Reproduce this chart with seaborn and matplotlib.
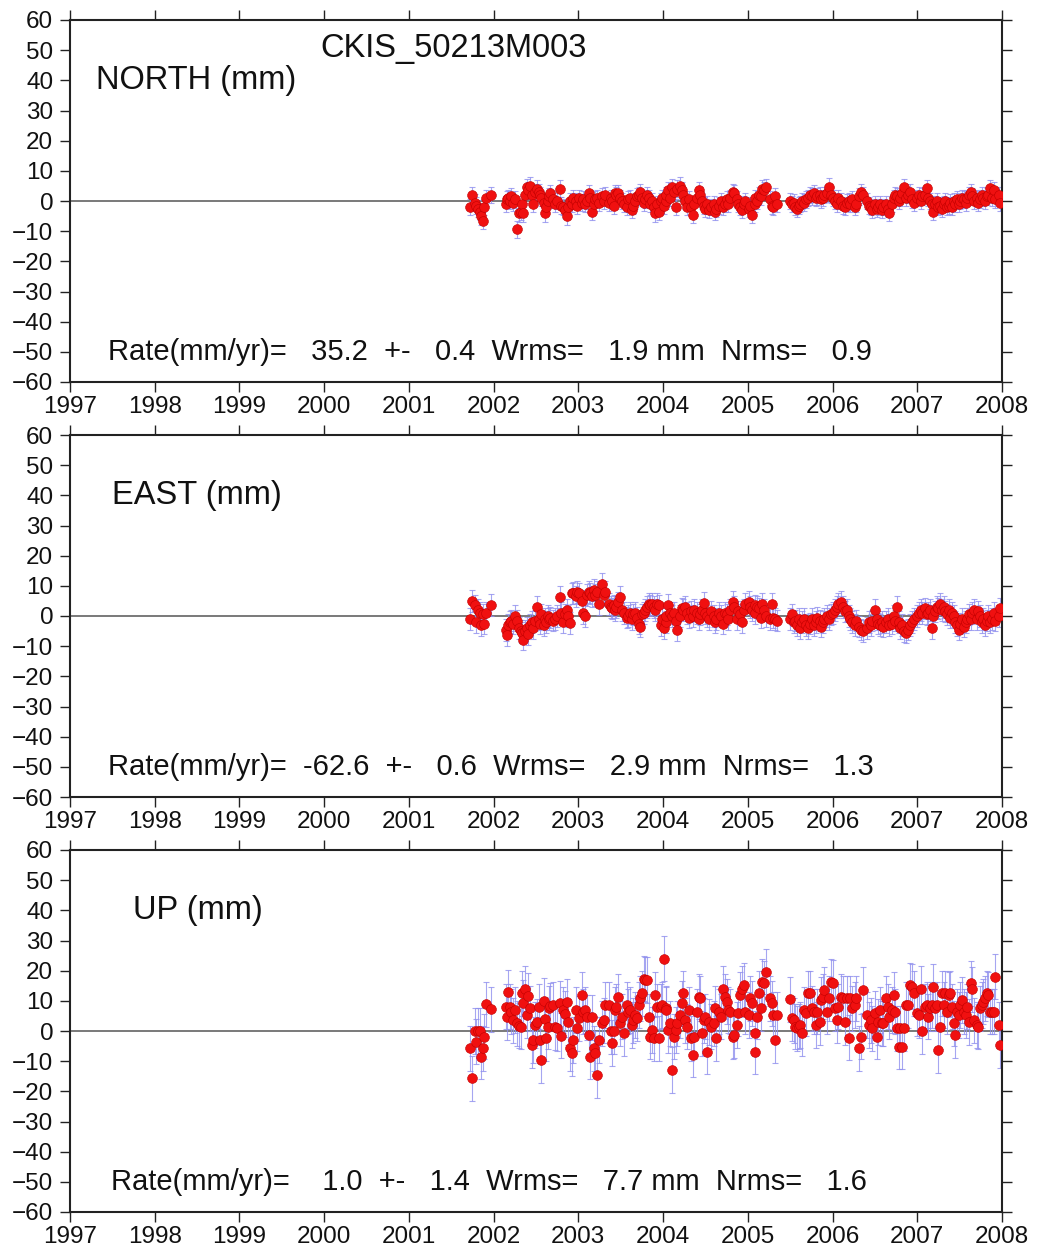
import matplotlib
matplotlib.use("Agg")
import matplotlib.pyplot as plt
import seaborn as sns
import pandas as pd
import numpy as np

# --- data (decimal years, mm) ---
epochs = [
    2001.72, 2001.75, 2001.78, 2001.79, 2001.82, 2001.84, 2001.85, 2001.87, 2001.89, 2001.91, 2001.97,
    2002.15, 2002.16, 2002.17, 2002.19, 2002.21, 2002.23, 2002.25, 2002.27, 2002.30, 2002.32,
    2002.33, 2002.35, 2002.37, 2002.39, 2002.41, 2002.43, 2002.45, 2002.46, 2002.49, 2002.51,
    2002.53, 2002.55, 2002.56, 2002.59, 2002.61, 2002.62, 2002.64, 2002.65, 2002.67, 2002.70,
    2002.72, 2002.75, 2002.78, 2002.79, 2002.82, 2002.84, 2002.87, 2002.88, 2002.90, 2002.93,
    2002.94, 2002.97, 2002.98, 2003.01, 2003.04, 2003.06, 2003.08, 2003.10, 2003.12, 2003.14,
    2003.16, 2003.18, 2003.20, 2003.22, 2003.24,
    2003.28, 2003.30, 2003.32, 2003.36, 2003.38, 2003.40, 2003.42, 2003.43, 2003.45, 2003.47,
    2003.49, 2003.51, 2003.54, 2003.57, 2003.59, 2003.61, 2003.63, 2003.65, 2003.67, 2003.69,
    2003.71, 2003.73, 2003.75, 2003.77, 2003.79, 2003.81, 2003.83, 2003.85, 2003.87, 2003.89,
    2003.91, 2003.93, 2003.95, 2003.97, 2003.99, 2004.01, 2004.03, 2004.04, 2004.06, 2004.08,
    2004.11, 2004.13, 2004.15, 2004.17, 2004.20, 2004.22, 2004.24, 2004.26, 2004.28, 2004.30,
    2004.33, 2004.35, 2004.37, 2004.40, 2004.42, 2004.44, 2004.46, 2004.48, 2004.50, 2004.52,
    2004.54, 2004.57, 2004.60, 2004.61, 2004.63, 2004.66, 2004.68, 2004.71, 2004.73, 2004.75,
    2004.77, 2004.79, 2004.82, 2004.84,
    2004.87, 2004.89, 2004.91, 2004.93, 2004.95, 2004.97, 2005.01, 2005.03, 2005.05, 2005.08,
    2005.09, 2005.11, 2005.13, 2005.15, 2005.17, 2005.19, 2005.21, 2005.26, 2005.28, 2005.30,
    2005.32, 2005.34,
    2005.50, 2005.52, 2005.54, 2005.56, 2005.58, 2005.60, 2005.62, 2005.64, 2005.66, 2005.69,
    2005.71, 2005.73, 2005.76, 2005.78, 2005.81, 2005.82, 2005.85, 2005.86, 2005.89, 2005.90,
    2005.93, 2005.96, 2005.98, 2006.00, 2006.03, 2006.05, 2006.07, 2006.10, 2006.12, 2006.15,
    2006.17, 2006.19, 2006.21, 2006.23, 2006.26, 2006.28, 2006.31, 2006.33, 2006.36,
    2006.41, 2006.43, 2006.45, 2006.47, 2006.50, 2006.52, 2006.54, 2006.56, 2006.58, 2006.60,
    2006.63, 2006.65, 2006.67, 2006.70, 2006.72, 2006.74, 2006.76, 2006.78, 2006.80, 2006.82,
    2006.84, 2006.87, 2006.89, 2006.92, 2006.94, 2006.96, 2007.00, 2007.02, 2007.04, 2007.06,
    2007.09, 2007.11, 2007.13, 2007.15, 2007.17, 2007.19, 2007.21, 2007.23, 2007.24, 2007.27,
    2007.29, 2007.31, 2007.33, 2007.35, 2007.37, 2007.39, 2007.41, 2007.43, 2007.45, 2007.47,
    2007.49, 2007.51, 2007.53, 2007.55, 2007.57, 2007.59, 2007.61, 2007.63, 2007.65, 2007.67,
    2007.70, 2007.72, 2007.74, 2007.76, 2007.78, 2007.80, 2007.82, 2007.84, 2007.86, 2007.88,
    2007.90, 2007.92, 2007.96, 2007.98,
]

north = [
    -2.0, 2.0, -0.5, -1.5, -2.5, -3.5, -5.0, -6.5, -2.0, 1.0, 2.0,
    -1.0, 0.5, 1.0, 0.0, 1.5, -0.5, 0.5, -9.3, -4.0, -3.5,
    -1.0, -4.0, 2.0, 4.5, 3.5, 5.0, 2.0, -1.0, 3.0, 4.0,
    3.0, 2.0, 1.0, -0.5, -4.0, -2.0, 0.0, 1.5, 2.5, 0.5,
    -1.0, 0.0, 4.0, -1.5, -2.0, -3.0, -5.0, -2.0, 0.0, -1.0,
    1.0, 0.0, -1.5, 1.0, -0.5, 0.5, -1.0, 0.0, 2.5, 1.0,
    -3.5, -1.0, 0.5, 1.0, -0.5,
    1.5, 0.0, 2.0, -0.5, 1.0, 0.0, -1.5, 2.5, 2.0, 2.5,
    1.0, 0.0, -1.0, -2.0, 0.5, 1.0, -3.0, -1.5, 0.0, 1.5,
    2.0, 3.0, 1.0, -0.5, 0.5, 2.0, 1.0, -1.0, 0.0, -2.0,
    -4.0, -1.0, -3.5, 0.0, 1.0, -1.5, 0.0, 2.0, 3.5, 1.0,
    4.5, 3.0, -2.0, 4.0, 5.0, 3.5, 2.0, 0.0, -2.0, 0.5,
    -2.0, -4.6, -1.0, 1.0, 3.6, 2.0, 0.0, -1.5, -2.5, -1.0,
    -3.0, -2.0, -1.0, -3.5, -2.5, -1.5, 0.0, -2.0, -1.0, 0.5,
    -1.0, 1.0, 3.0, 2.5,
    0.5, -1.0, -2.0, -3.0, -1.0, 0.0, -2.5, -1.5, -4.6, -1.0,
    1.0, 0.0, 2.0, 1.5, 4.0, 3.5, 4.5, 0.5, -1.5, -2.0,
    1.5, -1.0,
    0.0, -1.0, -0.5, -2.0, -2.5, -1.5, -1.0, 0.0, -0.5, 0.5,
    1.0, 2.0, 1.5, 2.5, 1.0, 1.5, 2.0, 0.5, 1.0, 2.0,
    2.5, 4.7, 2.0, 1.0, 0.0, -1.0, 1.0, 0.0, -1.5, -2.0,
    -0.5, 0.0, -1.0, 0.5, -2.0, -1.0, 1.5, 3.0, 2.0,
    0.0, -1.5, -2.0, -3.0, -1.0, -2.5, -2.0, -1.0, -3.0, -2.0,
    -1.0, -2.5, -3.9, -1.0, 1.0, 2.0, 1.5, 0.0, 1.0, 2.5,
    4.5, 1.0, 2.0, 3.0, 0.5, -0.5, 1.0, 2.0, 0.0, 1.5,
    2.0, 4.2, 1.0, 0.0, -1.0, -3.5, -1.0, 0.0, -2.0, -1.5,
    -2.5, -1.0, 0.0, -2.0, -1.5, -0.5, -2.0, 0.0, -1.0, 0.5,
    -1.0, 0.0, 1.0, 0.5, -0.5, 1.0, 2.0, 3.0, 1.5, 0.0,
    1.0, -0.5, 0.5, 2.0, 1.0, 0.0, 1.5, 2.0, 4.2, 1.0,
    3.6, 0.5, 2.0, -0.5,
]

east = [
    -1.0, 5.0, 3.5, -2.0, 2.0, 1.0, -3.0, 0.5, -2.5, 1.0, 3.6,
    -4.6, -6.3, -3.0, -2.0, -1.5, -2.5, 0.0, -1.5, -4.0, -5.0,
    -5.5, -7.8, -5.0, -4.0, -6.0, -3.0, -2.0, -4.0, -1.5, 3.0,
    -1.0, -2.5, 0.5, -3.0, -1.0, -2.0, 0.0, -1.0, -0.5, -1.5,
    -1.0, 0.0, 6.4, 1.0, -2.0, 0.5, 2.0, 0.0, -2.4, 7.5,
    7.7, 6.5, 8.0, 7.5, 5.0, 1.0, 0.0, 7.0, 8.0, 7.5,
    6.5, 8.5, 7.0, 8.0, 4.0,
    10.6, 7.0, 8.0, 4.0, 3.0, 2.5, 3.5, 2.0, 3.0, 4.5,
    6.4, 2.0, 1.0, -0.5, 0.0, 1.0, -1.0, 0.5, 1.0, -0.5,
    -2.5, -3.5, 0.5, 1.0, 2.0, 3.0, 4.0, 3.5, 4.0, 3.0,
    2.0, 4.0, 3.5, -3.0, -1.0, -4.0, -2.0, 0.0, 3.6, 1.0,
    0.0, 1.0, -1.5, -4.6, 0.0, 2.5, 2.0, 3.0, 1.0, -0.5,
    1.5, 0.0, 2.0, 1.0, -1.0, 0.5, 2.0, 4.2, 1.0, 0.0,
    -1.0, 1.5, 0.0, -2.0, -1.0, 1.0, 0.0, -2.5, 1.0, 0.5,
    -1.0, 2.0, 4.7, 3.0,
    -1.0, 1.5, 0.5, -2.0, 2.0, 4.0, 4.7, 3.0, 2.0, 3.5,
    1.0, 3.0, 2.5, -0.5, 4.0, 2.0, 0.0, -1.0, 4.0, -0.5,
    -1.0, -1.5,
    -1.0, 0.5, -2.0, -1.5, -3.0, -1.0, -4.0, -2.0, -1.0, -3.0,
    -4.0, -2.5, -1.0, -3.0, -2.0, -0.5, -1.5, -3.5, -2.0, -1.0,
    0.0, -1.0, 0.5, 1.0, 2.0, 3.0, 4.0, 4.7, 3.0, 1.5,
    2.0, 0.0, -1.0, -2.0, -3.0, -1.5, -3.5, -4.5, -5.0,
    -4.0, -2.0, -3.0, -1.5, 2.0, -1.0, -2.5, -3.0, -2.0, -3.5,
    -2.0, -1.0, -3.0, -2.5, 0.0, -1.5, 3.0, -2.0, -4.0, -3.0,
    -5.0, -5.5, -4.5, -3.0, -2.0, -1.0, 0.0, 1.0, 2.0, 1.0,
    2.5, 0.5, 1.0, 2.0, -4.0, 0.0, 1.5, 3.0, 2.5, 4.0,
    2.0, 3.0, 1.5, 0.5, 2.0, -0.5, 1.0, 0.0, -2.0, -3.0,
    -4.5, -2.5, -1.0, -3.5, -2.0, -1.0, 0.5, -1.0, 1.0, 2.0,
    -1.0, 1.5, 0.0, -2.0, -1.0, -3.0, -1.5, 0.0, -2.0, -1.0,
    1.0, -1.5, 0.0, 2.5,
]

up = [
    -5.7, -15.7, 0.0, -3.5, 0.0, 0.0, -8.5, -5.7, -1.9, 8.9, 7.2,
    8.0, 4.5, 12.8, 8.0, 6.4, 3.6, 7.0, 2.5, 1.7, 1.4,
    12.5, 9.4, 14.0, 5.3, 11.6, 7.5, -4.6, -3.0, 2.0, 3.0,
    8.0, -3.0, -9.6, 10.0, 3.9, -2.4, 1.4, 7.5, 8.3, 8.6,
    1.2, 0.9, 9.2, -1.5, 7.0, 5.6, 9.7, 3.0, -5.7, -7.4,
    -3.0, 7.0, 0.9, 4.2, 12.0, 6.4, 7.0, 4.5, -1.3, -8.5,
    4.5, -5.7, -7.4, -14.6, -3.0,
    2.5, 3.6, 8.6, 8.6, 0.0, -4.0, 0.0, 7.0, 8.0, 11.4,
    2.5, 4.7, -0.8, 8.6, 6.4, 7.0, 2.0, 3.6, 5.3, 4.2,
    8.6, 10.8, 12.5, 17.4, 17.0, 16.9, 4.7, -1.9, 0.3, -2.4,
    12.0, 8.0, -2.4, 8.0, 8.6, 24.0, 7.5, 7.0, 0.3, 2.5,
    -12.9, -1.9, 0.3, 2.5, 5.3, 9.2, 12.5, 3.6, 1.4, 7.0,
    -2.4, -7.9, -1.9, 6.4, 11.4, 10.8, -0.8, 3.6, 4.7, -6.8,
    3.0, 1.4, 2.5, 7.5, -2.4, 6.4, 4.7, 14.0, 11.4, 9.7,
    7.0, 6.4, -1.9, -1.3,
    2.0, 5.9, 12.0, 14.0, 15.2, 6.4, 5.3, 10.8, 9.2, -6.8,
    -0.8, 4.7, 12.5, 7.5, 16.3, 15.8, 19.6, 10.8, 9.2, 5.3,
    -3.0, 5.3,
    10.5, 4.2, 3.6, 1.4, 0.9, 1.4, 2.0, -0.8, 7.0, 5.9,
    12.5, 12.5, 7.5, 6.4, 2.0, 6.4, 3.0, 10.3, 11.4, 13.6,
    6.4, 10.8, 16.3, 16.0, 7.5, 3.6, 8.0, 11.4, 10.8, 3.0,
    10.8, -2.2, 10.8, 7.5, 8.6, 10.8, -5.7, -1.9, 13.6,
    5.3, 2.0, 3.6, 0.9, 5.9, -1.9, 3.0, 7.0, 2.5, 2.5,
    10.8, 8.0, 4.7, 7.0, 12.0, 6.4, 0.9, -5.2, 0.9, -5.2,
    0.9, 8.6, 8.6, 15.2, 14.7, 12.5, 5.9, 5.3, 14.0, 0.0,
    8.0, 8.6, 4.7, 7.5, 8.6, 14.7, 7.5, 8.6, -6.3, 1.4,
    12.5, 8.6, 12.5, 6.4, 12.0, 12.5, 8.0, 2.5, -1.3, 6.4,
    5.3, 8.6, 10.3, 6.4, 5.3, 8.0, 3.0, 15.8, 13.8, 3.6,
    2.0, 1.4, 7.5, 8.6, 9.7, 10.8, 12.5, 12.0, 6.4, 6.4,
    6.4, 18.0, 2.0, -4.6,
]

# one-sigma error bars (mm) per component
sigmas = [2.8, 3.6, 7.5]

components = ["NORTH (mm)", "EAST (mm)", "UP (mm)"]
station = "CKIS_50213M003"
rate_texts = [
    "Rate(mm/yr)=   35.2  +-   0.4  Wrms=   1.9 mm  Nrms=   0.9",
    "Rate(mm/yr)=  -62.6  +-   0.6  Wrms=   2.9 mm  Nrms=   1.3",
    "Rate(mm/yr)=    1.0  +-   1.4  Wrms=   7.7 mm  Nrms=   1.6",
]
year_ticks = list(range(1997, 2009))
mm_ticks = list(range(-60, 61, 10))

sns.set_theme(style="ticks")
plt.rcParams["font.family"] = ["Liberation Sans", "DejaVu Sans"]

fig = plt.figure(figsize=(10.37, 12.55), dpi=100)
W, H = 1037, 1255
tops = [20, 435, 850]
ax_h = 362
label_x = [1997.31, 1997.50, 1997.74]
rate_x = [1997.45, 1997.45, 1997.48]

for i, (vals, sig) in enumerate(zip([north, east, up], sigmas)):
    df = pd.DataFrame({"epoch": epochs, "value": vals})
    ax = fig.add_axes([70 / W, 1 - (tops[i] + ax_h) / H, 932 / W, ax_h / H])
    ax.axhline(0, color="#555555", lw=1.1, zorder=1)
    ax.errorbar(df["epoch"], df["value"], yerr=sig, fmt="none",
                ecolor="#9090ee", elinewidth=0.8, capsize=2.5, capthick=0.8,
                alpha=0.8, zorder=2)
    sns.scatterplot(data=df, x="epoch", y="value", ax=ax, color="#f01010",
                    edgecolor="#c00000", linewidth=0.4, s=50, zorder=3)
    ax.set_xlim(1997, 2008)
    ax.set_ylim(-60, 60)
    ax.set_xticks(year_ticks)
    ax.set_yticks(mm_ticks)
    ax.set_xlabel("")
    ax.set_ylabel("")
    ax.tick_params(axis="both", which="both", direction="out", length=7,
                   width=1.0, color="#222222", labelsize=17.5,
                   top=True, right=True, labelcolor="#111111")
    ax.tick_params(axis="x", pad=3)
    ax.tick_params(axis="y", pad=5)
    for sp in ax.spines.values():
        sp.set_visible(True)
        sp.set_linewidth(1.5)
        sp.set_color("#222222")
    ax.text(label_x[i], 40, components[i], fontsize=23.5, va="center",
            ha="left", color="#111111")
    ax.text(rate_x[i], -50, rate_texts[i], fontsize=21, va="center",
            ha="left", color="#111111")
    if i == 0:
        ax.text(1999.95, 50.5, station, fontsize=23.5, va="center",
                ha="left", color="#111111")

fig.savefig("out.png", dpi=100)
